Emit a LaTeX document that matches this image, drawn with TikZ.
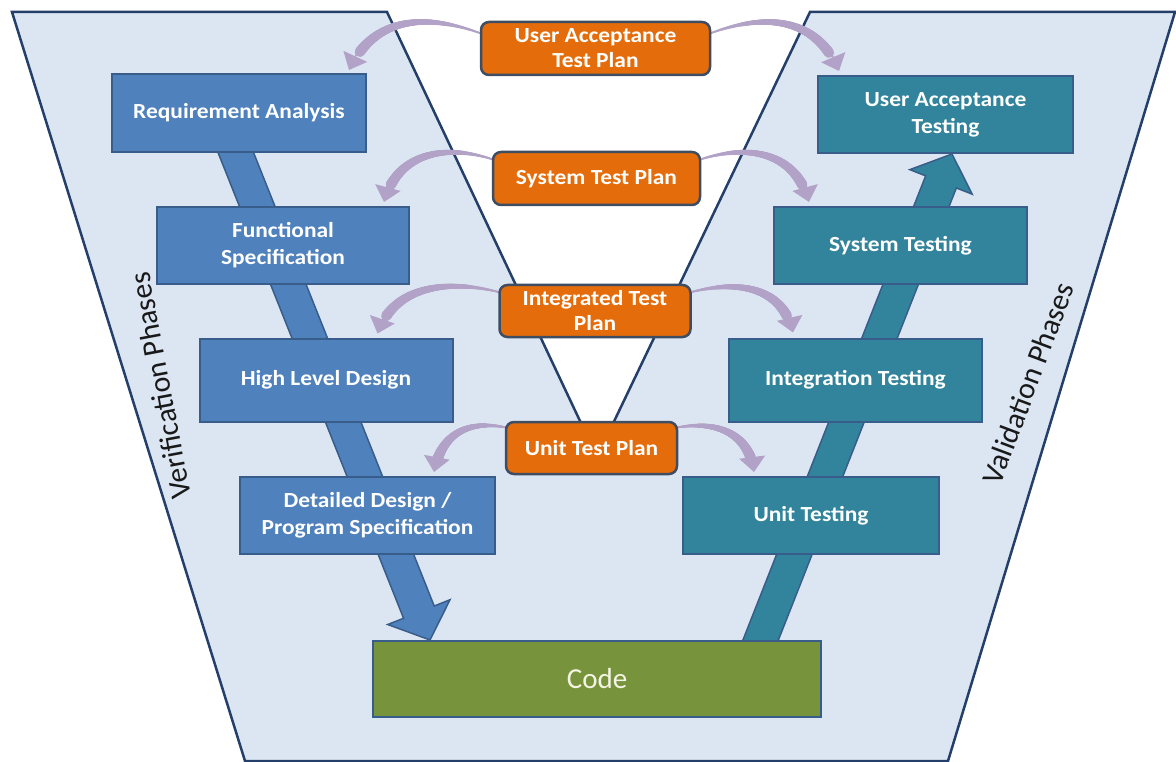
\documentclass[tikz,border=0pt]{standalone}
\usepackage{fontspec}
\setmainfont{Carlito}
\newfontfamily\boxfont[FakeStretch=1.09]{Carlito}
\usetikzlibrary{arrows.meta,calc,decorations.markings}
\definecolor{panel}{HTML}{DCE6F2}
\definecolor{panelline}{HTML}{24406A}
\definecolor{vblue}{HTML}{4F81BD}
\definecolor{vteal}{HTML}{31849B}
\definecolor{boxline}{HTML}{385D8A}
\definecolor{vorange}{HTML}{E46C0A}
\definecolor{orline}{HTML}{3F4D63}
\definecolor{vgreen}{HTML}{77933C}
\definecolor{purp}{HTML}{B3A2C7}
\definecolor{codetext}{HTML}{F4F4E4}
\pgfdeclarelayer{back}
\pgfdeclarelayer{arr}
\pgfsetlayers{back,arr,main}
\tikzset{
  phase/.style={draw=boxline, line width=2pt, text=white, align=center, inner sep=0pt,
    font=\boxfont\fontsize{21.5}{27}\selectfont\bfseries},
  leftbox/.style={phase, fill=vblue},
  rightbox/.style={phase, fill=vteal},
  planbox/.style={draw=orline, line width=2.5pt, fill=vorange, rounded corners=8pt, text=white,
    align=center, inner sep=0pt, font=\boxfont\fontsize{21.5}{25}\selectfont\bfseries},
  codebox/.style={draw=boxline, line width=2pt, fill=vgreen, text=codetext, inner sep=0pt,
    font=\fontsize{29}{34}\selectfont},
  sidelabel/.style={font=\fontsize{30}{36}\selectfont, text=black!90, inner sep=0pt},
  bigarrow/.style={draw=boxline, line width=1.5pt, line join=miter},
  purparrow/.style={draw=purp, line width=1.5pt, -{Triangle[width=26pt,length=15pt]},
    postaction={decorate},
    decoration={markings, mark=between positions 0 and 0.86 step 0.004 with {
      \pgfmathsetmacro\tpr{0.8+4.4*\pgfkeysvalueof{/pgf/decoration/mark info/sequence number}/215}
      \fill[purp] (0,0) circle[radius=\tpr pt];}}}
}
\begin{document}
\begin{tikzpicture}[x=1pt,y=-1pt]
\useasboundingbox (0,0) rectangle (1176,762);
\begin{pgfonlayer}{back}
% background panel with V notch
\draw[fill=panel, draw=panelline, line width=2.5pt, line join=miter]
  (12,12) -- (387,12) -- (597,457) -- (810,12) -- (1175,12) -- (948,761) -- (245,761) -- cycle;
% big flow arrows
\coordinate (ltail) at (226,128);
\coordinate (ltip) at (430,640);
\coordinate (rtail) at (752,662);
\coordinate (rtip) at (952,154);
\path ($(ltip)!30pt!(ltail)$) coordinate (lhb);
\path ($(rtip)!30pt!(rtail)$) coordinate (rhb);
\draw[bigarrow, fill=vblue] ($(ltail)!16.5pt!90:(ltip)$) -- ($(lhb)!16.5pt!90:(ltip)$)
  -- ($(lhb)!33.5pt!90:(ltip)$) -- (ltip) -- ($(lhb)!33.5pt!-90:(ltip)$)
  -- ($(lhb)!16.5pt!-90:(ltip)$) -- ($(ltail)!16.5pt!-90:(ltip)$) -- cycle;
\draw[bigarrow, fill=vteal] ($(rtail)!16.5pt!90:(rtip)$) -- ($(rhb)!16.5pt!90:(rtip)$)
  -- ($(rhb)!33.5pt!90:(rtip)$) -- (rtip) -- ($(rhb)!33.5pt!-90:(rtip)$)
  -- ($(rhb)!16.5pt!-90:(rtip)$) -- ($(rtail)!16.5pt!-90:(rtip)$) -- cycle;
\end{pgfonlayer}

% side labels
\node[sidelabel, rotate=100.6] (verif) at (160,386) {Verification Phases};
\node[sidelabel, rotate=69.4] (valid) at (1028,383) {Validation Phases};

% phase boxes
\node[leftbox, minimum width=254pt, minimum height=78pt] (ra) at (239,113) {Requirement Analysis};
\node[leftbox, minimum width=252pt, minimum height=77pt] (fs) at (283,245.5) {Functional\\Specification};
\node[leftbox, minimum width=253pt, minimum height=83pt] (hld) at (326,380) {High Level Design};
\node[leftbox, minimum width=255pt, minimum height=77pt] (dd) at (367.5,515.5) {Detailed Design /\\Program Specification};
\node[codebox, minimum width=448pt, minimum height=76pt] (code) at (597,679) {Code};
\node[rightbox, minimum width=256pt, minimum height=77pt] (ut) at (811,515.5) {Unit Testing};
\node[rightbox, minimum width=253pt, minimum height=83pt] (it) at (855.5,380) {Integration Testing};
\node[rightbox, minimum width=253pt, minimum height=77pt] (st) at (900.5,245.5) {System Testing};
\node[rightbox, minimum width=255pt, minimum height=77pt] (uat) at (945.5,114.5) {User Acceptance\\Testing};

% test plan boxes
\node[planbox, minimum width=229pt, minimum height=53pt] (uatp) at (595.5,48.5) {User Acceptance\\Test Plan};
\node[planbox, minimum width=207pt, minimum height=53pt] (stp) at (596.5,178.5) {System Test Plan};
\node[planbox, minimum width=191pt, minimum height=52pt] (itp) at (595,311) {Integrated Test\\Plan};
\node[planbox, minimum width=171pt, minimum height=52pt] (utp) at (591.5,448) {Unit Test Plan};

% purple curved arrows (behind the boxes)
\begin{pgfonlayer}{arr}
\draw[purparrow] ($(uatp.west)+(4,-14)$) .. controls (430,14) and (375,14) .. ($(ra.north east)+(-18,-3)$);
\draw[purparrow] ($(uatp.east)+(-4,-14)$) .. controls (760,14) and (815,14) .. ($(uat.north west)+(22,-4)$);
\draw[purparrow] ($(stp.west)+(4,-18)$) .. controls (450,144) and (398,150) .. ($(fs.north east)+(-26,-4)$);
\draw[purparrow] ($(stp.east)+(-4,-18)$) .. controls (745,144) and (795,150) .. ($(st.north west)+(36,-4)$);
\draw[purparrow] ($(itp.west)+(4,-18)$) .. controls (455,280) and (395,282) .. ($(hld.north east)+(-76,-4)$);
\draw[purparrow] ($(itp.east)+(-4,-18)$) .. controls (735,280) and (782,285) .. ($(it.north west)+(65,-5)$);
\draw[purparrow] ($(utp.west)+(4,-20)$) .. controls (472,420) and (442,430) .. ($(dd.north east)+(-62,-4)$);
\draw[purparrow] ($(utp.east)+(-4,-20)$) .. controls (715,420) and (749,432) .. ($(ut.north west)+(72,-4)$);
\end{pgfonlayer}
\end{tikzpicture}
\end{document}
